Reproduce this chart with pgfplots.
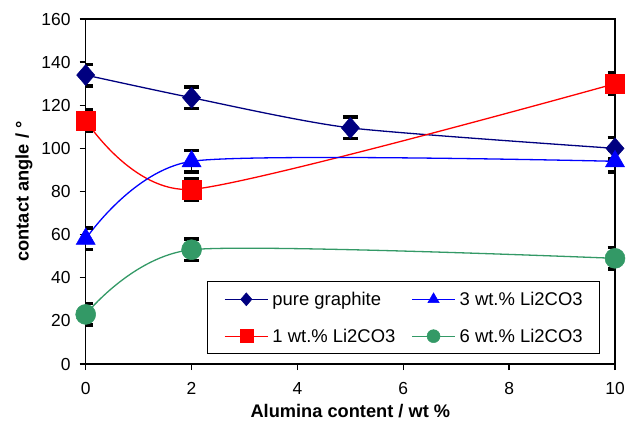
\documentclass[border=0pt]{standalone}
\usepackage{pgfplots}
\pgfplotsset{compat=1.18}
\usepackage{fontspec}
\setmainfont{Liberation Sans}
\definecolor{sgreen}{RGB}{51,153,102}
\definecolor{navyc}{RGB}{0,0,128}
\begin{document}
\begin{tikzpicture}
\begin{axis}[
  name=ax,
  scale only axis, width=529.3bp, height=345bp,
  xmin=0, xmax=10, ymin=0, ymax=160,
  xtick={0,2,...,10}, ytick={0,20,...,160},
  tick align=outside, xtick pos=bottom, ytick pos=left,
  major tick length=6bp,
  axis line style={line width=1.5bp},
  tick style={line width=1.3bp, black},
  ticklabel style={font=\fontsize{17.5}{20}\selectfont},
  yticklabel style={anchor=east, inner sep=0pt, xshift=-9bp},
  xticklabel style={anchor=north, inner sep=0pt, yshift=-12bp},
  /pgf/number format/assume math mode=true,
  xlabel={Alumina content / wt \%},
  ylabel={contact angle / °},
  label style={font=\fontsize{18.3}{22}\selectfont\bfseries},
  xlabel style={at={([yshift=-53bp]axis description cs:0.5,0)}, anchor=base, inner sep=0pt},
  ylabel style={at={([xshift=-53bp]axis description cs:0,0.5)}, anchor=south, inner sep=0pt},
  legend columns=2, transpose legend,
  legend cell align=left,
  legend style={at={(0.9717,0.029)}, anchor=south east, draw=black, line width=0.8bp,
    font=\fontsize{18.5}{22}\selectfont, column sep=4bp, row sep=22bp,
    nodes={inner sep=0pt},
    /tikz/every even column/.append style={column sep=16bp},
    inner xsep=17bp, inner ysep=10bp},
  legend image code/.code={\draw[#1] (0bp,0bp) -- (43bp,0bp); \draw[#1, mark size=6.5bp, mark repeat=2, mark phase=2] plot coordinates {(0bp,0bp) (21.5bp,0bp) (43bp,0bp)};},
  error bars/error bar style={black, line width=1.5bp},
  error bars/error mark options={black, line width=3.5bp, mark size=7.5bp, rotate=90},
]
\addplot[navyc, line width=1.3bp, smooth, tension=0.4, mark=diamond*, mark size=10.5bp, mark options={fill=navyc, draw=navyc, line width=0.5bp, xscale=1.15},
  error bars/.cd, y dir=both, y explicit]
  coordinates {(0,134) +- (0,5) (2,123.5) +- (0,5) (5,109.5) +- (0,5) (10,100) +- (0,5)};
\addlegendentry{pure graphite}
\addplot[red, line width=1.3bp, smooth, tension=0.4, mark=square*, mark size=9.5bp, mark options={fill=red, draw=red, line width=0.5bp},
  error bars/.cd, y dir=both, y explicit]
  coordinates {(0,113) +- (0,5) (2,81) +- (0,5) (10,130) +- (0,5)};
\addlegendentry{1 wt.\% Li2CO3}
\addplot[blue, line width=1.3bp, smooth, tension=0.4, mark=triangle*, mark size=11bp, mark options={fill=blue, draw=blue, line width=0.5bp},
  error bars/.cd, y dir=both, y explicit]
  coordinates {(0,58) +- (0,5) (2,94) +- (0,5) (10,94) +- (0,5)};
\addlegendentry{3 wt.\% Li2CO3}
\addplot[sgreen, line width=1.3bp, smooth, tension=0.4, mark=*, mark size=10bp, mark options={fill=sgreen, draw=sgreen, line width=0.5bp},
  error bars/.cd, y dir=both, y explicit]
  coordinates {(0,23) +- (0,5) (2,53) +- (0,5) (10,49) +- (0,5)};
\addlegendentry{6 wt.\% Li2CO3}
\end{axis}
\pgfresetboundingbox
\path[use as bounding box] ([xshift=-85.7bp,yshift=-61bp]ax.south west) rectangle ([xshift=12bp,yshift=19bp]ax.north east);
\end{tikzpicture}
\end{document}
